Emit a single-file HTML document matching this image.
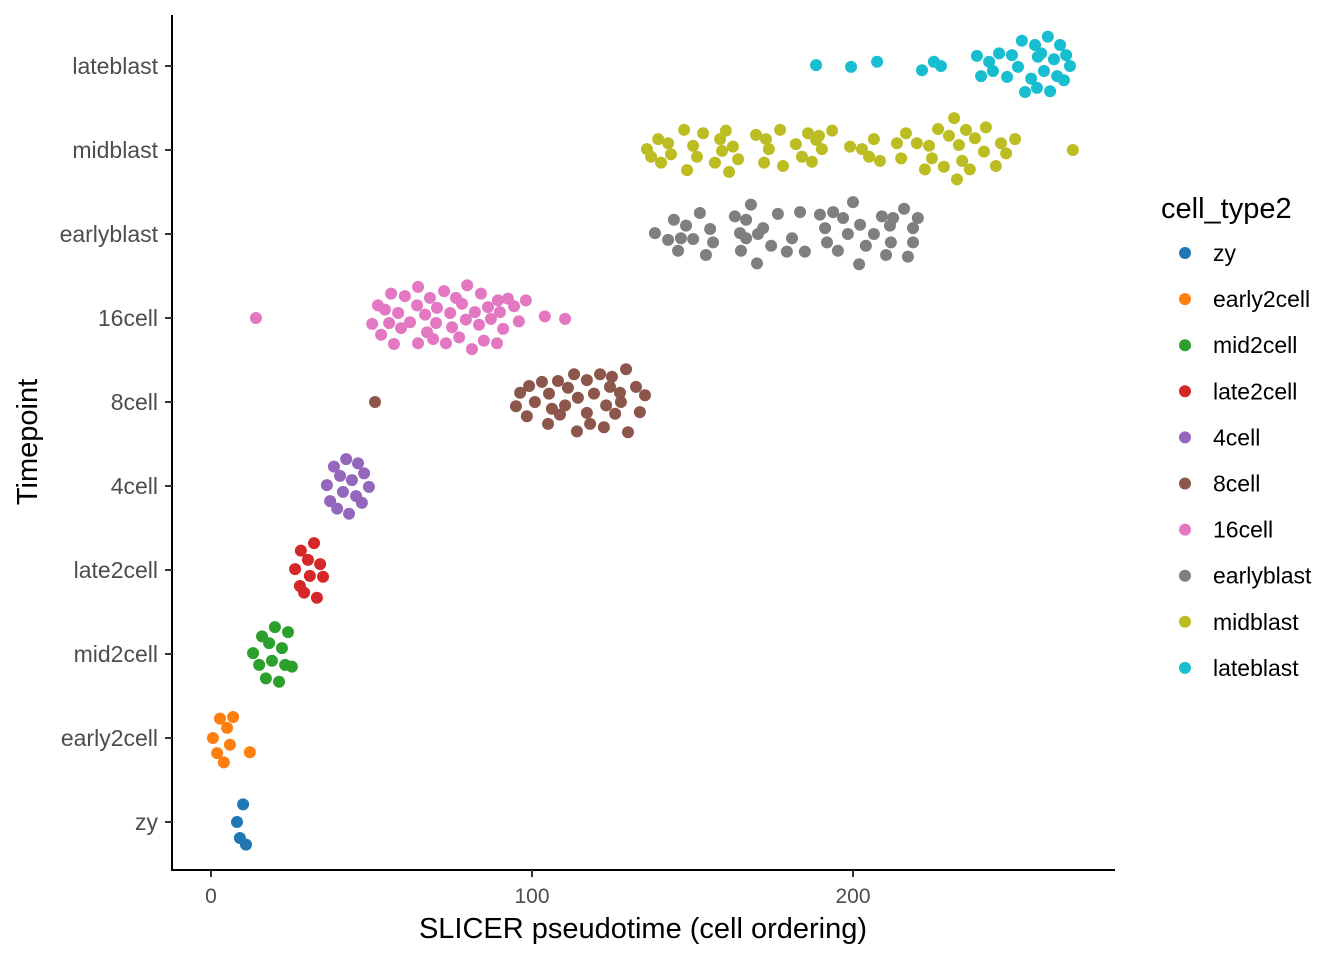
<!DOCTYPE html>
<html><head><meta charset="utf-8"><style>
body{margin:0;background:#fff;}
svg{display:block;font-family:"Liberation Sans",sans-serif;}
</style></head><body>
<svg id="chart" width="1344" height="960" viewBox="0 0 1344 960"></svg>
<script>
const categories=["zy","early2cell","mid2cell","late2cell","4cell","8cell","16cell","earlyblast","midblast","lateblast"];
const colors=["#1f77b4","#ff7f0e","#2ca02c","#d62728","#9467bd","#8c564b","#e377c2","#7f7f7f","#bcbd22","#17becf"];
const xTicks=[0,100,200];
const zyX=[10.0,8.1,9.0,10.9];
const zyDy=[.21,0,-.19,-.27];
const e2X=[2.8,6.9,5.0,0.6,5.9,12.1,1.9,4.0];
const e2Dy=[.23,.25,.12,0,-.08,-.17,-.18,-.29];
const m2X=[19.9,15.9,24.0,18.1,22.1,13.1,19.0,15.0,23.1,25.2,17.1,21.2];
const m2Dy=[.32,.21,.26,.13,.07,.01,-.08,-.13,-.13,-.15,-.29,-.33];
const l2X=[32.1,28.0,30.2,34.0,26.2,30.8,34.9,27.7,29.0,33.0];
const l2Dy=[.32,.23,.12,.07,.01,-.07,-.08,-.19,-.27,-.33];
const c4X=[42.1,38.3,45.8,40.2,47.7,43.9,36.1,49.2,41.1,45.2,37.1,47.0,39.3,43.0];
const c4Dy=[.32,.23,.27,.12,.15,.07,.01,-.01,-.07,-.12,-.18,-.2,-.27,-.33];
const c8X=[51.1,129.3,113.1,121.2,124.9,103.1,108.1,117.1,99.1,111.2,124.3,132.4,96.3,105.3,114.3,119.3,127.4,100.9,95.0,110.3,123.1,135.2,133.6,127.7,106.2,98.4,117.1,108.7,125.9,105.0,114.0,118.1,122.4,129.9];
const c8Dy=[0,.39,.33,.33,.30,.24,.25,.26,.19,.17,.18,.18,.11,.10,.05,.10,.11,0,-.05,-.04,-.04,.08,-.12,0,-.08,-.17,-.13,-.15,-.14,-.26,-.35,-.26,-.30,-.36];
const c16X=[14.0,64.5,72.6,79.8,56.1,60.4,68.2,76.3,84.1,89.4,52.0,54.2,64.2,70.4,78.2,86.3,92.5,98.1,58.3,66.7,74.5,82.2,90.0,94.4,104.0,110.3,50.2,55.5,62.0,70.1,79.4,87.2,95.9,53.0,59.2,67.3,75.1,83.5,91.0,57.0,64.5,69.2,73.2,77.3,85.0,81.3,89.1];
const c16Dy=[0,.37,.32,.39,.29,.26,.24,.24,.29,.21,.15,.10,.15,.12,.17,.13,.23,.21,.06,.04,.06,.07,.07,.14,.02,-.01,-.07,-.06,-.05,-.06,-.02,-.01,-.04,-.20,-.12,-.17,-.11,-.08,-.13,-.31,-.30,-.25,-.30,-.23,-.27,-.37,-.30];
const ebX=[138.3,144.2,148.0,152.3,142.4,146.4,150.2,155.5,156.4,145.5,154.2,163.2,166.7,168.2,164.8,172.0,176.6,183.5,166.7,170.4,181.0,165.1,174.5,170.1,179.4,185.0,191.3,193.8,196.9,200.0,202.2,191.9,198.4,206.5,195.3,201.9,209.0,212.5,215.9,220.2,211.5,211.8,218.7,218.7,210.3,217.1,204.0,189.7];
const ebDy=[.01,.17,.10,.25,-.07,-.05,-.06,.06,-.10,-.20,-.25,.21,.17,.35,.01,.07,.24,.26,-.05,0,-.05,-.20,-.14,-.35,-.21,-.21,.07,.26,.19,.38,.11,-.10,0,0,-.20,-.36,.21,.19,.30,.19,.10,-.10,.07,-.10,-.25,-.27,-.14,.23];
const mbX=[135.8,137.1,139.3,142.4,143.3,140.2,147.4,150.2,151.4,153.3,148.3,157.0,159.2,160.4,158.6,162.6,164.2,161.4,169.8,172.9,173.8,172.3,177.3,178.2,182.2,184.1,186.0,188.5,190.3,189.4,193.5,187.2,202.8,205.0,206.5,208.4,213.7,216.5,215.0,219.9,223.7,222.4,226.5,229.9,228.3,224.6,231.5,233.0,234.0,235.2,232.4,236.4,238.0,241.4,240.8,244.5,246.1,247.7,250.5,268.5,199.1];
const mbDy=[.01,-.08,.13,.08,-.05,-.15,.24,.05,-.08,.20,-.24,-.15,-.01,.23,.13,.04,-.11,-.26,.18,.13,.01,-.15,.24,-.19,.07,-.08,.20,.12,.01,.17,.23,-.14,.01,-.08,.13,-.13,.08,.20,-.10,.08,.05,-.23,.25,.17,-.20,-.10,.38,.06,-.13,.24,-.35,-.23,.14,.27,-.02,-.19,.08,-.04,.13,0,.04];
const lbX=[188.5,199.4,207.5,221.5,225.2,227.4,238.6,239.9,242.4,243.6,245.5,248.0,249.5,251.4,252.6,253.6,255.5,256.7,257.6,259.5,257.3,260.7,261.4,262.6,263.6,264.5,266.4,267.6,265.7,258.6];
const lbDy=[.01,-.01,.05,-.05,.05,0,.12,-.12,.05,-.06,.15,-.13,.13,-.01,.30,-.31,-.15,.25,.11,-.06,-.26,.35,-.30,.08,-.12,.25,.13,0,-.17,.15];
const seriesX=[zyX,e2X,m2X,l2X,c4X,c8X,c16X,ebX,mbX,lbX];
const seriesDy=[zyDy,e2Dy,m2Dy,l2Dy,c4Dy,c8Dy,c16Dy,ebDy,mbDy,lbDy];

const NS="http://www.w3.org/2000/svg";
const svg=document.getElementById('chart');
const L=172,R=1115,T=15,B=870;
const xs=v=>211+v*3.21;
const ys=(i,dy)=>822-84*i-dy*84;
function mk(tag,attrs,parent){const e=document.createElementNS(NS,tag);for(const k in attrs)e.setAttribute(k,attrs[k]);(parent||svg).appendChild(e);return e;}

const pts=mk('g',{});


seriesX.forEach((arr,i)=>{
  const g=mk('g',{},pts);
  
  
  arr.forEach((v,j)=>{
    const c=mk('circle',{cx:xs(v),cy:ys(i,seriesDy[i][j]),r:6,fill:colors[i]},g);
    
    
  });
});

const ax=mk('g',{stroke:'#000','stroke-width':2});


const yl=mk('line',{x1:L,y1:T,x2:L,y2:B+1},ax);


const xl=mk('line',{x1:L-1,y1:B,x2:R,y2:B},ax);



xTicks.forEach(t=>{
  const tk=mk('line',{x1:xs(t),y1:B,x2:xs(t),y2:B+7,stroke:'#333','stroke-width':2});
  
  
  const tx=mk('text',{x:xs(t),y:903,'text-anchor':'middle','font-size':21,fill:'#4d4d4d'});
  tx.textContent=t;
  
  
});
categories.forEach((c,i)=>{
  const y=ys(i,0);
  const tk=mk('line',{x1:L-7,y1:y,x2:L,y2:y,stroke:'#333','stroke-width':2});
  
  
  const tx=mk('text',{x:158,y:y+8,'text-anchor':'end','font-size':23,fill:'#4d4d4d'});
  tx.textContent=c;
  
  
});
const xt=mk('text',{x:643,y:938,'text-anchor':'middle','font-size':29,fill:'#000'});
xt.textContent='SLICER pseudotime (cell ordering)';


const yt=mk('text',{x:37,y:442,'text-anchor':'middle','font-size':29,fill:'#000',transform:'rotate(-90 37 442)'});
yt.textContent='Timepoint';



const lg=mk('g',{});


const lt=mk('text',{x:1161,y:218,'font-size':29,fill:'#000'},lg);
lt.textContent='cell_type2';


categories.forEach((c,i)=>{
  const y=253+i*46.1;
  const e=mk('g',{},lg);
  
  
  mk('circle',{cx:1185,cy:y,r:6,fill:colors[i]},e);
  const t=mk('text',{x:1213,y:y+8,'font-size':23,fill:'#000'},e);
  t.textContent=c;
});
</script>
</body></html>
